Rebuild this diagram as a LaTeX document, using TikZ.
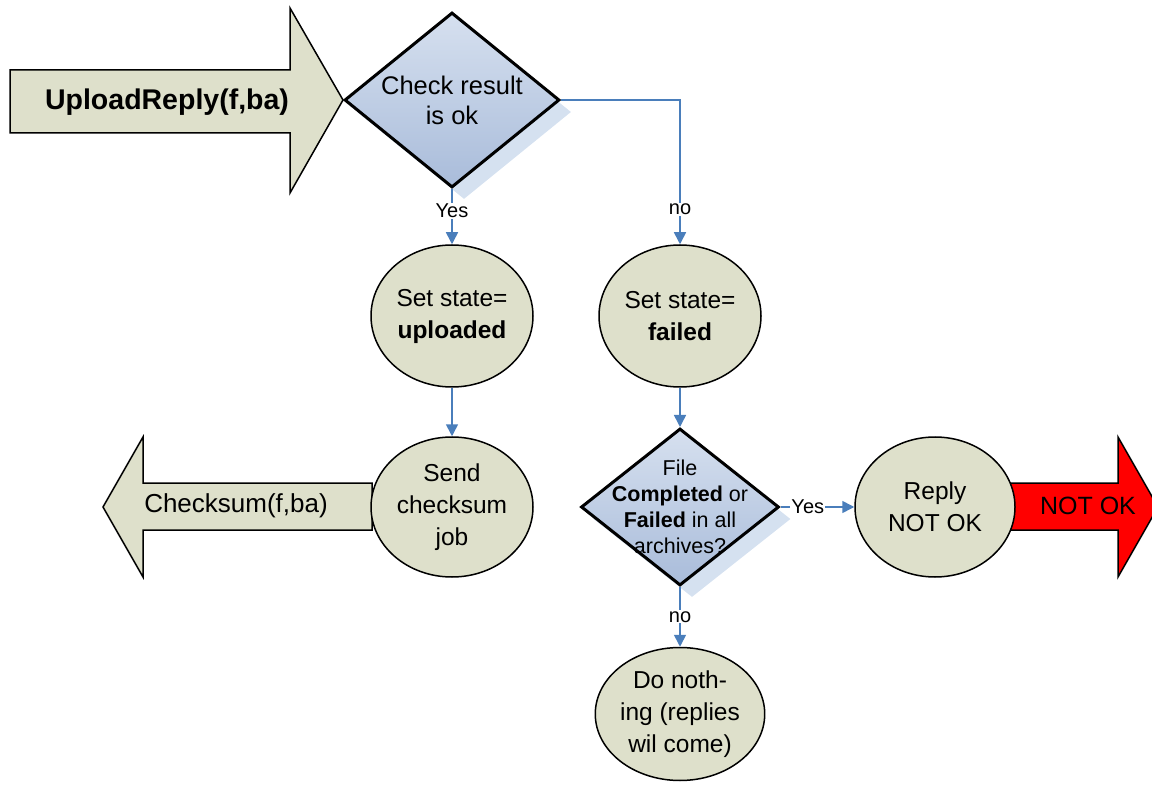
\documentclass[tikz,border=0pt]{standalone}
\usepackage{fontspec}
\setmainfont{Liberation Sans}
\usetikzlibrary{shapes.geometric,arrows.meta,shadows,positioning}

\definecolor{statefill}{HTML}{DEE0CB}
\definecolor{flowblue}{HTML}{4A7EBB}
\definecolor{testtop}{HTML}{D6E0EF}
\definecolor{testbot}{HTML}{A9BCDA}
\definecolor{shadowblue}{HTML}{D5E1F0}

\begin{document}
\begin{tikzpicture}[x=1pt,y=-1pt,>={Triangle[length=12pt,width=12pt]},
  state/.style={ellipse,draw,line width=1.5pt,fill=statefill,inner sep=0pt,
    minimum width=162pt,minimum height=142pt,align=center,
    font=\fontsize{24.5}{32}\selectfont},
  test/.style={diamond,draw,line width=3pt,top color=testtop,bottom color=testbot,
    inner sep=0pt,
    drop shadow={shadow xshift=12pt,shadow yshift=-12pt,fill=shadowblue,opacity=1}},
  testtext/.style={align=center,inner sep=0pt},
  flow/.style={->,draw=flowblue,line width=1.6pt},
  lbl/.style={fill=white,inner sep=1pt,font=\fontsize{20}{22}\selectfont},
  bigarrow/.style={draw,line width=1.5pt,fill=statefill}]
\useasboundingbox (0,0) rectangle (1152,794);

% incoming call
\draw[bigarrow] (10,70) -- (290,70) -- (290,8) -- (343,100) -- (290,193)
  -- (290,133) -- (10,133) -- cycle;
\node[font=\fontsize{28.5}{32}\selectfont\bfseries] (upload) at (167,102) {UploadReply(f,ba)};

% outgoing calls
\draw[bigarrow] (372,483) -- (143,483) -- (143,437) -- (103,507) -- (143,577)
  -- (143,530) -- (372,530) -- cycle;
\node[font=\fontsize{26}{30}\selectfont] (checksum) at (236,506) {Checksum(f,ba)};
\draw[bigarrow,fill=red] (1010,483) -- (1118,483) -- (1118,437) -- (1158,507)
  -- (1118,577) -- (1118,530) -- (1010,530) -- cycle;
\node[font=\fontsize{25}{30}\selectfont] (notok) at (1088,506) {NOT OK};

% tests
\node[test,minimum width=215pt,minimum height=175pt] (check) at (452,100) {};
\node[testtext,font=\fontsize{25.5}{30}\selectfont] (checktext) at (check)
  {Check result\\is ok};
\node[test,minimum width=198pt,minimum height=157pt] (complete) at (680,507) {};
\node[testtext,font=\fontsize{21.5}{26}\selectfont] (completetext) at (complete)
  {File\\\textbf{Completed} or\\\textbf{Failed} in all\\archives?};

% states
\node[state] (uploaded) at (452,316) {Set state=\\\textbf{uploaded}};
\node[state] (failed) at (680,316) {Set state=\\\textbf{failed}};
\node[state,minimum height=140pt] (send) at (452,507) {Send\\checksum\\job};
\node[state,minimum width=160pt,minimum height=140pt] (reply) at (935,507) {Reply\\NOT OK};
\node[state,minimum width=165pt,minimum height=133pt] (nothing) at (680,714)
  {Do noth-\\ing (replies\\wil come)};

% flow
\draw[flow] (check.south) -- node[lbl,pos=0.4] {Yes} (uploaded);
\draw[flow] (check.east) -| node[lbl,pos=0.88] {no} (failed);
\draw[flow] (uploaded) -- (send);
\draw[flow] (failed) -- (complete);
\draw[flow] (complete.east) -- node[lbl,pos=0.37] {Yes} (reply);
\draw[flow] (complete.south) -- node[lbl,pos=0.5] {no} (nothing);
\end{tikzpicture}
\end{document}
